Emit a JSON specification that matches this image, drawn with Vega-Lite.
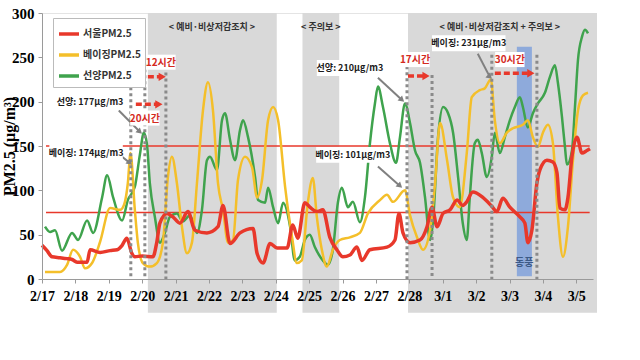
{
  "$schema": "https://vega.github.io/schema/vega-lite/v6.json",
  "width": 551,
  "height": 266,
  "autosize": {"type": "none"},
  "padding": {"left": 42, "top": 13, "right": 47, "bottom": 81},
  "background": "white",
  "config": {
    "view": {"stroke": "#e4e4e4"},
    "axis": {"labelOverlap": false, "labelFlush": false, "grid": false}
  },
  "datasets": {
    "regions": [{"start": 3.17, "end": 7.03}, {"start": 7.8, "end": 8.9}, {"start": 10.96, "end": 16.62}],
    "east": [{"start": 14.22, "end": 14.67, "mid": 14.44, "label": "동풍"}],
    "thresholds": [{"level": 150}, {"level": 75}],
    "headers": [
      {"label": "< 예비·비상저감조치 >", "day": 5.09},
      {"label": "< 주의보 >", "day": 8.35},
      {"label": "< 예비·비상저감조치 + 주의보 >", "day": 13.71}
    ],
    "markers": [
      {"day": 2.66, "top": 250}, {"day": 3.08, "top": 250}, {"day": 3.71, "top": 233},
      {"day": 10.93, "top": 240}, {"day": 11.68, "top": 230}, {"day": 13.47, "top": 253}, {"day": 14.82, "top": 253}
    ],
    "notes": [
      {"label": "선양: 177μg/m3", "day": 1.44, "pm": 200, "x1": 0.45, "x2": 2.43, "y1": 191, "y2": 209},
      {"label": "베이징: 174μg/m3", "day": 1.32, "pm": 142, "x1": 0.22, "x2": 2.42, "y1": 133, "y2": 151},
      {"label": "선양: 210μg/m3", "day": 9.22, "pm": 238, "x1": 8.23, "x2": 10.21, "y1": 229, "y2": 247},
      {"label": "베이징: 101μg/m3", "day": 9.31, "pm": 140, "x1": 8.21, "x2": 10.41, "y1": 131, "y2": 149},
      {"label": "베이징: 231μg/m3", "day": 12.78, "pm": 266, "x1": 11.68, "x2": 13.88, "y1": 257, "y2": 275}
    ],
    "arrows": [
      {"day": 2.3, "pm": 190, "day2": 2.93, "pm2": 166},
      {"day": 2.36, "pm": 139, "day2": 2.63, "pm2": 131},
      {"day": 10.06, "pm": 227, "day2": 10.78, "pm2": 202},
      {"day": 10.06, "pm": 127, "day2": 10.72, "pm2": 105},
      {"day": 13.05, "pm": 254, "day2": 13.41, "pm2": 228}
    ],
    "spans": [
      {"label": "12시간", "day": 3.17, "day2": 3.6, "pm": 228, "tday": 3.56, "tpm": 244, "x1": 3.12, "x2": 4.0, "y1": 236, "y2": 253},
      {"label": "20시간", "day": 2.81, "day2": 3.5, "pm": 197, "tday": 3.08, "tpm": 181, "x1": 2.64, "x2": 3.52, "y1": 173, "y2": 190},
      {"label": "17시간", "day": 10.96, "day2": 11.5, "pm": 229, "tday": 11.17, "tpm": 247, "x1": 10.73, "x2": 11.61, "y1": 239, "y2": 256},
      {"label": "30시간", "day": 13.56, "day2": 14.64, "pm": 232, "tday": 14.01, "tpm": 247, "x1": 13.57, "x2": 14.45, "y1": 239, "y2": 256}
    ],
    "pm": [
      {"station": "서울PM2.5", "day": 0, "pm": 38}, {"station": "서울PM2.5", "day": 0.15, "pm": 32}, {"station": "서울PM2.5", "day": 0.3, "pm": 25}, {"station": "서울PM2.5", "day": 0.54, "pm": 24}, {"station": "서울PM2.5", "day": 0.75, "pm": 23}, {"station": "서울PM2.5", "day": 0.9, "pm": 22}, {"station": "서울PM2.5", "day": 1.05, "pm": 19}, {"station": "서울PM2.5", "day": 1.35, "pm": 19}, {"station": "서울PM2.5", "day": 1.44, "pm": 33}, {"station": "서울PM2.5", "day": 1.74, "pm": 30}, {"station": "서울PM2.5", "day": 2.04, "pm": 32}, {"station": "서울PM2.5", "day": 2.25, "pm": 33}, {"station": "서울PM2.5", "day": 2.4, "pm": 38}, {"station": "서울PM2.5", "day": 2.54, "pm": 46}, {"station": "서울PM2.5", "day": 2.69, "pm": 29}, {"station": "서울PM2.5", "day": 2.78, "pm": 25}, {"station": "서울PM2.5", "day": 3.0, "pm": 26}, {"station": "서울PM2.5", "day": 3.32, "pm": 25}, {"station": "서울PM2.5", "day": 3.44, "pm": 42}, {"station": "서울PM2.5", "day": 3.53, "pm": 63}, {"station": "서울PM2.5", "day": 3.74, "pm": 74}, {"station": "서울PM2.5", "day": 3.92, "pm": 70}, {"station": "서울PM2.5", "day": 4.13, "pm": 63}, {"station": "서울PM2.5", "day": 4.37, "pm": 76}, {"station": "서울PM2.5", "day": 4.58, "pm": 55}, {"station": "서울PM2.5", "day": 4.94, "pm": 52}, {"station": "서울PM2.5", "day": 5.27, "pm": 59}, {"station": "서울PM2.5", "day": 5.42, "pm": 83}, {"station": "서울PM2.5", "day": 5.63, "pm": 40}, {"station": "서울PM2.5", "day": 5.93, "pm": 52}, {"station": "서울PM2.5", "day": 6.32, "pm": 57}, {"station": "서울PM2.5", "day": 6.44, "pm": 29}, {"station": "서울PM2.5", "day": 6.62, "pm": 18}, {"station": "서울PM2.5", "day": 6.83, "pm": 40}, {"station": "서울PM2.5", "day": 7.04, "pm": 35}, {"station": "서울PM2.5", "day": 7.34, "pm": 35}, {"station": "서울PM2.5", "day": 7.51, "pm": 61}, {"station": "서울PM2.5", "day": 7.66, "pm": 46}, {"station": "서울PM2.5", "day": 7.87, "pm": 86}, {"station": "서울PM2.5", "day": 8.02, "pm": 81}, {"station": "서울PM2.5", "day": 8.23, "pm": 76}, {"station": "서울PM2.5", "day": 8.41, "pm": 78}, {"station": "서울PM2.5", "day": 8.62, "pm": 47}, {"station": "서울PM2.5", "day": 8.83, "pm": 33}, {"station": "서울PM2.5", "day": 9.01, "pm": 25}, {"station": "서울PM2.5", "day": 9.22, "pm": 27}, {"station": "서울PM2.5", "day": 9.43, "pm": 36}, {"station": "서울PM2.5", "day": 9.58, "pm": 21}, {"station": "서울PM2.5", "day": 9.82, "pm": 33}, {"station": "서울PM2.5", "day": 10.33, "pm": 36}, {"station": "서울PM2.5", "day": 10.57, "pm": 44}, {"station": "서울PM2.5", "day": 10.69, "pm": 74}, {"station": "서울PM2.5", "day": 10.81, "pm": 52}, {"station": "서울PM2.5", "day": 11.02, "pm": 41}, {"station": "서울PM2.5", "day": 11.32, "pm": 44}, {"station": "서울PM2.5", "day": 11.53, "pm": 59}, {"station": "서울PM2.5", "day": 11.68, "pm": 81}, {"station": "서울PM2.5", "day": 11.83, "pm": 59}, {"station": "서울PM2.5", "day": 12.01, "pm": 74}, {"station": "서울PM2.5", "day": 12.22, "pm": 78}, {"station": "서울PM2.5", "day": 12.43, "pm": 89}, {"station": "서울PM2.5", "day": 12.6, "pm": 83}, {"station": "서울PM2.5", "day": 12.72, "pm": 87}, {"station": "서울PM2.5", "day": 12.9, "pm": 98}, {"station": "서울PM2.5", "day": 13.2, "pm": 92}, {"station": "서울PM2.5", "day": 13.47, "pm": 82}, {"station": "서울PM2.5", "day": 13.62, "pm": 76}, {"station": "서울PM2.5", "day": 13.8, "pm": 91}, {"station": "서울PM2.5", "day": 14.01, "pm": 81}, {"station": "서울PM2.5", "day": 14.31, "pm": 70}, {"station": "서울PM2.5", "day": 14.46, "pm": 63}, {"station": "서울PM2.5", "day": 14.55, "pm": 41}, {"station": "서울PM2.5", "day": 14.67, "pm": 55}, {"station": "서울PM2.5", "day": 14.82, "pm": 108}, {"station": "서울PM2.5", "day": 14.91, "pm": 123}, {"station": "서울PM2.5", "day": 15.12, "pm": 134}, {"station": "서울PM2.5", "day": 15.3, "pm": 132}, {"station": "서울PM2.5", "day": 15.42, "pm": 120}, {"station": "서울PM2.5", "day": 15.51, "pm": 80}, {"station": "서울PM2.5", "day": 15.66, "pm": 78}, {"station": "서울PM2.5", "day": 15.75, "pm": 92}, {"station": "서울PM2.5", "day": 15.87, "pm": 138}, {"station": "서울PM2.5", "day": 16.02, "pm": 160}, {"station": "서울PM2.5", "day": 16.17, "pm": 142}, {"station": "서울PM2.5", "day": 16.32, "pm": 145}, {"station": "서울PM2.5", "day": 16.41, "pm": 147},

      {"station": "베이징PM2.5", "day": 0.09, "pm": 8}, {"station": "베이징PM2.5", "day": 0.54, "pm": 8}, {"station": "베이징PM2.5", "day": 0.75, "pm": 16}, {"station": "베이징PM2.5", "day": 0.93, "pm": 33}, {"station": "베이징PM2.5", "day": 1.14, "pm": 25}, {"station": "베이징PM2.5", "day": 1.29, "pm": 12}, {"station": "베이징PM2.5", "day": 1.5, "pm": 18}, {"station": "베이징PM2.5", "day": 1.74, "pm": 42}, {"station": "베이징PM2.5", "day": 2.04, "pm": 80}, {"station": "베이징PM2.5", "day": 2.34, "pm": 78}, {"station": "베이징PM2.5", "day": 2.46, "pm": 84}, {"station": "베이징PM2.5", "day": 2.57, "pm": 108}, {"station": "베이징PM2.5", "day": 2.65, "pm": 142}, {"station": "베이징PM2.5", "day": 2.78, "pm": 78}, {"station": "베이징PM2.5", "day": 2.87, "pm": 41}, {"station": "베이징PM2.5", "day": 3.02, "pm": 18}, {"station": "베이징PM2.5", "day": 3.23, "pm": 14}, {"station": "베이징PM2.5", "day": 3.44, "pm": 18}, {"station": "베이징PM2.5", "day": 3.62, "pm": 41}, {"station": "베이징PM2.5", "day": 3.77, "pm": 115}, {"station": "베이징PM2.5", "day": 3.89, "pm": 138}, {"station": "베이징PM2.5", "day": 4.04, "pm": 108}, {"station": "베이징PM2.5", "day": 4.19, "pm": 59}, {"station": "베이징PM2.5", "day": 4.34, "pm": 29}, {"station": "베이징PM2.5", "day": 4.49, "pm": 41}, {"station": "베이징PM2.5", "day": 4.64, "pm": 108}, {"station": "베이징PM2.5", "day": 4.82, "pm": 190}, {"station": "베이징PM2.5", "day": 4.97, "pm": 222}, {"station": "베이징PM2.5", "day": 5.12, "pm": 190}, {"station": "베이징PM2.5", "day": 5.27, "pm": 108}, {"station": "베이징PM2.5", "day": 5.42, "pm": 78}, {"station": "베이징PM2.5", "day": 5.57, "pm": 41}, {"station": "베이징PM2.5", "day": 5.72, "pm": 44}, {"station": "베이징PM2.5", "day": 5.87, "pm": 112}, {"station": "베이징PM2.5", "day": 6.08, "pm": 138}, {"station": "베이징PM2.5", "day": 6.29, "pm": 126}, {"station": "베이징PM2.5", "day": 6.44, "pm": 92}, {"station": "베이징PM2.5", "day": 6.59, "pm": 112}, {"station": "베이징PM2.5", "day": 6.77, "pm": 179}, {"station": "베이징PM2.5", "day": 6.92, "pm": 194}, {"station": "베이징PM2.5", "day": 7.07, "pm": 179}, {"station": "베이징PM2.5", "day": 7.28, "pm": 104}, {"station": "베이징PM2.5", "day": 7.49, "pm": 47}, {"station": "베이징PM2.5", "day": 7.63, "pm": 18}, {"station": "베이징PM2.5", "day": 7.78, "pm": 21}, {"station": "베이징PM2.5", "day": 7.96, "pm": 86}, {"station": "베이징PM2.5", "day": 8.11, "pm": 114}, {"station": "베이징PM2.5", "day": 8.23, "pm": 70}, {"station": "베이징PM2.5", "day": 8.38, "pm": 33}, {"station": "베이징PM2.5", "day": 8.53, "pm": 14}, {"station": "베이징PM2.5", "day": 8.71, "pm": 33}, {"station": "베이징PM2.5", "day": 8.92, "pm": 44}, {"station": "베이징PM2.5", "day": 9.22, "pm": 47}, {"station": "베이징PM2.5", "day": 9.52, "pm": 52}, {"station": "베이징PM2.5", "day": 9.76, "pm": 74}, {"station": "베이징PM2.5", "day": 10.12, "pm": 89}, {"station": "베이징PM2.5", "day": 10.33, "pm": 95}, {"station": "베이징PM2.5", "day": 10.51, "pm": 87}, {"station": "베이징PM2.5", "day": 10.87, "pm": 100}, {"station": "베이징PM2.5", "day": 11.02, "pm": 72}, {"station": "베이징PM2.5", "day": 11.23, "pm": 47}, {"station": "베이징PM2.5", "day": 11.41, "pm": 33}, {"station": "베이징PM2.5", "day": 11.62, "pm": 55}, {"station": "베이징PM2.5", "day": 11.77, "pm": 108}, {"station": "베이징PM2.5", "day": 11.92, "pm": 176}, {"station": "베이징PM2.5", "day": 12.13, "pm": 134}, {"station": "베이징PM2.5", "day": 12.31, "pm": 92}, {"station": "베이징PM2.5", "day": 12.51, "pm": 81}, {"station": "베이징PM2.5", "day": 12.72, "pm": 142}, {"station": "베이징PM2.5", "day": 12.87, "pm": 205}, {"station": "베이징PM2.5", "day": 13.11, "pm": 213}, {"station": "베이징PM2.5", "day": 13.26, "pm": 215}, {"station": "베이징PM2.5", "day": 13.44, "pm": 225}, {"station": "베이징PM2.5", "day": 13.56, "pm": 179}, {"station": "베이징PM2.5", "day": 13.71, "pm": 153}, {"station": "베이징PM2.5", "day": 13.92, "pm": 165}, {"station": "베이징PM2.5", "day": 14.1, "pm": 170}, {"station": "베이징PM2.5", "day": 14.4, "pm": 174}, {"station": "베이징PM2.5", "day": 14.55, "pm": 179}, {"station": "베이징PM2.5", "day": 14.7, "pm": 160}, {"station": "베이징PM2.5", "day": 14.85, "pm": 149}, {"station": "베이징PM2.5", "day": 15.0, "pm": 165}, {"station": "베이징PM2.5", "day": 15.15, "pm": 174}, {"station": "베이징PM2.5", "day": 15.3, "pm": 153}, {"station": "베이징PM2.5", "day": 15.45, "pm": 70}, {"station": "베이징PM2.5", "day": 15.6, "pm": 25}, {"station": "베이징PM2.5", "day": 15.75, "pm": 59}, {"station": "베이징PM2.5", "day": 15.9, "pm": 134}, {"station": "베이징PM2.5", "day": 16.05, "pm": 190}, {"station": "베이징PM2.5", "day": 16.2, "pm": 207}, {"station": "베이징PM2.5", "day": 16.35, "pm": 210},

      {"station": "선양PM2.5", "day": 0.09, "pm": 59}, {"station": "선양PM2.5", "day": 0.24, "pm": 53}, {"station": "선양PM2.5", "day": 0.39, "pm": 55}, {"station": "선양PM2.5", "day": 0.6, "pm": 32}, {"station": "선양PM2.5", "day": 0.9, "pm": 52}, {"station": "선양PM2.5", "day": 1.08, "pm": 44}, {"station": "선양PM2.5", "day": 1.35, "pm": 66}, {"station": "선양PM2.5", "day": 1.53, "pm": 52}, {"station": "선양PM2.5", "day": 1.8, "pm": 92}, {"station": "선양PM2.5", "day": 1.95, "pm": 117}, {"station": "선양PM2.5", "day": 2.13, "pm": 92}, {"station": "선양PM2.5", "day": 2.4, "pm": 66}, {"station": "선양PM2.5", "day": 2.57, "pm": 89}, {"station": "선양PM2.5", "day": 2.78, "pm": 104}, {"station": "선양PM2.5", "day": 2.93, "pm": 140}, {"station": "선양PM2.5", "day": 3.05, "pm": 165}, {"station": "선양PM2.5", "day": 3.14, "pm": 153}, {"station": "선양PM2.5", "day": 3.23, "pm": 108}, {"station": "선양PM2.5", "day": 3.38, "pm": 70}, {"station": "선양PM2.5", "day": 3.53, "pm": 41}, {"station": "선양PM2.5", "day": 3.68, "pm": 52}, {"station": "선양PM2.5", "day": 3.83, "pm": 70}, {"station": "선양PM2.5", "day": 4.04, "pm": 74}, {"station": "선양PM2.5", "day": 4.22, "pm": 65}, {"station": "선양PM2.5", "day": 4.43, "pm": 72}, {"station": "선양PM2.5", "day": 4.64, "pm": 52}, {"station": "선양PM2.5", "day": 4.79, "pm": 78}, {"station": "선양PM2.5", "day": 4.94, "pm": 134}, {"station": "선양PM2.5", "day": 5.03, "pm": 138}, {"station": "선양PM2.5", "day": 5.24, "pm": 123}, {"station": "선양PM2.5", "day": 5.39, "pm": 179}, {"station": "선양PM2.5", "day": 5.48, "pm": 187}, {"station": "선양PM2.5", "day": 5.63, "pm": 157}, {"station": "선양PM2.5", "day": 5.78, "pm": 134}, {"station": "선양PM2.5", "day": 5.93, "pm": 168}, {"station": "선양PM2.5", "day": 6.02, "pm": 179}, {"station": "선양PM2.5", "day": 6.17, "pm": 160}, {"station": "선양PM2.5", "day": 6.38, "pm": 115}, {"station": "선양PM2.5", "day": 6.47, "pm": 89}, {"station": "선양PM2.5", "day": 6.68, "pm": 86}, {"station": "선양PM2.5", "day": 6.77, "pm": 103}, {"station": "선양PM2.5", "day": 6.92, "pm": 81}, {"station": "선양PM2.5", "day": 7.07, "pm": 63}, {"station": "선양PM2.5", "day": 7.22, "pm": 86}, {"station": "선양PM2.5", "day": 7.43, "pm": 59}, {"station": "선양PM2.5", "day": 7.57, "pm": 21}, {"station": "선양PM2.5", "day": 7.72, "pm": 25}, {"station": "선양PM2.5", "day": 7.87, "pm": 44}, {"station": "선양PM2.5", "day": 8.02, "pm": 50}, {"station": "선양PM2.5", "day": 8.17, "pm": 36}, {"station": "선양PM2.5", "day": 8.41, "pm": 21}, {"station": "선양PM2.5", "day": 8.56, "pm": 16}, {"station": "선양PM2.5", "day": 8.71, "pm": 33}, {"station": "선양PM2.5", "day": 8.86, "pm": 86}, {"station": "선양PM2.5", "day": 8.98, "pm": 103}, {"station": "선양PM2.5", "day": 9.16, "pm": 81}, {"station": "선양PM2.5", "day": 9.31, "pm": 87}, {"station": "선양PM2.5", "day": 9.52, "pm": 64}, {"station": "선양PM2.5", "day": 9.67, "pm": 92}, {"station": "선양PM2.5", "day": 9.82, "pm": 153}, {"station": "선양PM2.5", "day": 9.97, "pm": 198}, {"station": "선양PM2.5", "day": 10.06, "pm": 217}, {"station": "선양PM2.5", "day": 10.21, "pm": 194}, {"station": "선양PM2.5", "day": 10.42, "pm": 153}, {"station": "선양PM2.5", "day": 10.6, "pm": 131}, {"station": "선양PM2.5", "day": 10.72, "pm": 160}, {"station": "선양PM2.5", "day": 10.87, "pm": 198}, {"station": "선양PM2.5", "day": 11.02, "pm": 176}, {"station": "선양PM2.5", "day": 11.17, "pm": 145}, {"station": "선양PM2.5", "day": 11.32, "pm": 131}, {"station": "선양PM2.5", "day": 11.47, "pm": 92}, {"station": "선양PM2.5", "day": 11.62, "pm": 44}, {"station": "선양PM2.5", "day": 11.71, "pm": 66}, {"station": "선양PM2.5", "day": 11.86, "pm": 160}, {"station": "선양PM2.5", "day": 12.01, "pm": 194}, {"station": "선양PM2.5", "day": 12.16, "pm": 187}, {"station": "선양PM2.5", "day": 12.31, "pm": 165}, {"station": "선양PM2.5", "day": 12.46, "pm": 115}, {"station": "선양PM2.5", "day": 12.6, "pm": 63}, {"station": "선양PM2.5", "day": 12.72, "pm": 44}, {"station": "선양PM2.5", "day": 12.81, "pm": 92}, {"station": "선양PM2.5", "day": 12.96, "pm": 153}, {"station": "선양PM2.5", "day": 13.05, "pm": 157}, {"station": "선양PM2.5", "day": 13.17, "pm": 142}, {"station": "선양PM2.5", "day": 13.32, "pm": 115}, {"station": "선양PM2.5", "day": 13.47, "pm": 138}, {"station": "선양PM2.5", "day": 13.56, "pm": 165}, {"station": "선양PM2.5", "day": 13.71, "pm": 142}, {"station": "선양PM2.5", "day": 13.86, "pm": 160}, {"station": "선양PM2.5", "day": 14.01, "pm": 179}, {"station": "선양PM2.5", "day": 14.16, "pm": 194}, {"station": "선양PM2.5", "day": 14.31, "pm": 205}, {"station": "선양PM2.5", "day": 14.4, "pm": 194}, {"station": "선양PM2.5", "day": 14.55, "pm": 171}, {"station": "선양PM2.5", "day": 14.7, "pm": 187}, {"station": "선양PM2.5", "day": 14.85, "pm": 198}, {"station": "선양PM2.5", "day": 15.06, "pm": 210}, {"station": "선양PM2.5", "day": 15.21, "pm": 228}, {"station": "선양PM2.5", "day": 15.36, "pm": 241}, {"station": "선양PM2.5", "day": 15.45, "pm": 221}, {"station": "선양PM2.5", "day": 15.57, "pm": 183}, {"station": "선양PM2.5", "day": 15.66, "pm": 149}, {"station": "선양PM2.5", "day": 15.72, "pm": 129}, {"station": "선양PM2.5", "day": 15.87, "pm": 145}, {"station": "선양PM2.5", "day": 15.96, "pm": 194}, {"station": "선양PM2.5", "day": 16.05, "pm": 247}, {"station": "선양PM2.5", "day": 16.17, "pm": 273}, {"station": "선양PM2.5", "day": 16.26, "pm": 281}, {"station": "선양PM2.5", "day": 16.35, "pm": 277}
    ]
  },
  "layer": [
    {
      "data": {"name": "regions"},
      "mark": {"type": "rect", "color": "#d9d9d9"},
      "encoding": {
        "x": {"field": "start", "type": "quantitative", "scale": {"domain": [0, 16.5], "nice": false, "zero": false},
          "axis": {"values": [0, 1, 2, 3, 4, 5, 6, 7, 8, 9, 10, 11, 12, 13, 14, 15, 16], "tickCount": 40,
            "labelExpr": "timeFormat(datetime(2019, 1, 17 + datum.value), '%-m/%-d')",
            "title": null, "grid": false, "tickSize": 4, "labelPadding": 6, "labelFlush": false, "labelOverlap": false,
            "labelFont": "Liberation Serif", "labelFontWeight": "bold", "labelFontSize": 14, "labelColor": "#000",
            "domainColor": "#9a9a9a", "tickColor": "#9a9a9a", "zindex": 1}},
        "x2": {"field": "end"},
        "y": {"datum": 300, "type": "quantitative", "scale": {"domain": [0, 300], "nice": false, "zero": false},
          "axis": {"values": [0, 50, 100, 150, 200, 250, 300], "tickCount": 20, "title": "PM2.5 (μg/m³)",
            "titleFont": "Liberation Serif", "titleFontSize": 16, "titleFontWeight": "bold", "titleColor": "#000", "titleX": -28, "titleBaseline": "alphabetic",
            "grid": false, "tickSize": 4, "labelPadding": 4,
            "labelFont": "Liberation Serif", "labelFontWeight": "bold", "labelFontSize": 15, "labelColor": "#000",
            "domainColor": "#9a9a9a", "tickColor": "#9a9a9a", "zindex": 1}},
        "y2": {"datum": -38}
      }
    },
    {
      "data": {"name": "east"},
      "mark": {"type": "rect", "color": "#8eaadb"},
      "encoding": {
        "x": {"field": "start", "type": "quantitative"},
        "x2": {"field": "end"},
        "y": {"datum": 262, "type": "quantitative"},
        "y2": {"datum": 3}
      }
    },
    {
      "data": {"name": "thresholds"},
      "mark": {"type": "rule", "color": "#e8382b", "strokeWidth": 1.5},
      "encoding": {
        "x": {"datum": 0.12, "type": "quantitative"},
        "x2": {"datum": 16.4},
        "y": {"field": "level", "type": "quantitative"}
      }
    },
    {
      "data": {"name": "headers"},
      "mark": {"type": "text", "font": "Noto Sans CJK KR", "fontSize": 9, "fontWeight": "bold", "color": "#333333"},
      "encoding": {
        "x": {"field": "day", "type": "quantitative"},
        "y": {"datum": 284, "type": "quantitative"},
        "text": {"field": "label", "type": "nominal"}
      }
    },
    {
      "data": {"name": "pm"},
      "transform": [{"filter": "datum.station === '선양PM2.5'"}],
      "mark": {"type": "line", "interpolate": "monotone", "strokeWidth": 2.5},
      "encoding": {
        "x": {"field": "day", "type": "quantitative"},
        "y": {"field": "pm", "type": "quantitative"},
        "color": {"field": "station", "type": "nominal",
          "scale": {"domain": ["서울PM2.5", "베이징PM2.5", "선양PM2.5"], "range": ["#e8382b", "#f4bf2a", "#3fa34d"]},
          "legend": {"title": null, "orient": "none", "legendX": 11, "legendY": 5, "symbolType": "stroke", "symbolStrokeWidth": 3.5,
            "symbolSize": 400, "labelFont": "Noto Sans CJK KR", "labelFontSize": 10, "labelFontWeight": "bold", "labelColor": "#333333",
            "strokeColor": "#bbbbbb", "fillColor": "white", "padding": 4, "rowPadding": 2, "labelOffset": 2}}
      }
    },
    {
      "data": {"name": "pm"},
      "transform": [{"filter": "datum.station === '베이징PM2.5'"}],
      "mark": {"type": "line", "interpolate": "monotone", "strokeWidth": 2.5},
      "encoding": {
        "x": {"field": "day", "type": "quantitative"},
        "y": {"field": "pm", "type": "quantitative"},
        "color": {"field": "station", "type": "nominal"}
      }
    },
    {
      "data": {"name": "pm"},
      "transform": [{"filter": "datum.station === '서울PM2.5'"}],
      "mark": {"type": "line", "interpolate": "monotone", "strokeWidth": 3.5},
      "encoding": {
        "x": {"field": "day", "type": "quantitative"},
        "y": {"field": "pm", "type": "quantitative"},
        "color": {"field": "station", "type": "nominal"}
      }
    },
    {
      "data": {"name": "east"},
      "mark": {"type": "text", "font": "Noto Sans CJK KR", "fontSize": 10, "fontWeight": "bold", "color": "#3d5a86"},
      "encoding": {
        "x": {"field": "mid", "type": "quantitative"},
        "y": {"datum": 18, "type": "quantitative"},
        "text": {"field": "label", "type": "nominal"}
      }
    },
    {
      "data": {"name": "markers"},
      "mark": {"type": "rule", "color": "#8a8a8a", "strokeWidth": 3, "strokeDash": [3, 3]},
      "encoding": {
        "x": {"field": "day", "type": "quantitative"},
        "y": {"field": "top", "type": "quantitative"},
        "y2": {"datum": -1}
      }
    },
    {
      "data": {"name": "arrows"},
      "mark": {"type": "rule", "color": "#808080", "strokeWidth": 2},
      "encoding": {
        "x": {"field": "day", "type": "quantitative"},
        "y": {"field": "pm", "type": "quantitative"},
        "x2": {"field": "day2"},
        "y2": {"field": "pm2"}
      }
    },
    {
      "data": {"name": "arrows"},
      "mark": {"type": "point", "shape": "triangle-right", "filled": true, "color": "#808080", "size": 45, "angle": 42, "opacity": 1},
      "encoding": {
        "x": {"field": "day2", "type": "quantitative"},
        "y": {"field": "pm2", "type": "quantitative"}
      }
    },
    {
      "data": {"name": "spans"},
      "mark": {"type": "rule", "color": "#e8382b", "strokeWidth": 3.5, "strokeDash": [6, 3]},
      "encoding": {
        "x": {"field": "day", "type": "quantitative"},
        "x2": {"field": "day2"},
        "y": {"field": "pm", "type": "quantitative"}
      }
    },
    {
      "data": {"name": "spans"},
      "mark": {"type": "point", "shape": "triangle-right", "filled": true, "color": "#e8382b", "size": 70, "opacity": 1},
      "encoding": {
        "x": {"field": "day2", "type": "quantitative"},
        "y": {"field": "pm", "type": "quantitative"}
      }
    },
    {
      "data": {"name": "notes"},
      "mark": {"type": "rect", "color": "white"},
      "encoding": {
        "x": {"field": "x1", "type": "quantitative"},
        "x2": {"field": "x2"},
        "y": {"field": "y1", "type": "quantitative"},
        "y2": {"field": "y2"}
      }
    },
    {
      "data": {"name": "spans"},
      "mark": {"type": "rect", "color": "white"},
      "encoding": {
        "x": {"field": "x1", "type": "quantitative"},
        "x2": {"field": "x2"},
        "y": {"field": "y1", "type": "quantitative"},
        "y2": {"field": "y2"}
      }
    },
    {
      "data": {"name": "notes"},
      "mark": {"type": "text", "font": "Noto Sans CJK KR", "fontSize": 9, "fontWeight": "bold", "color": "#1a1a1a"},
      "encoding": {
        "x": {"field": "day", "type": "quantitative"},
        "y": {"field": "pm", "type": "quantitative"},
        "text": {"field": "label", "type": "nominal"}
      }
    },
    {
      "data": {"name": "spans"},
      "mark": {"type": "text", "font": "Noto Sans CJK KR", "fontSize": 10, "fontWeight": "bold", "color": "#d42a1e"},
      "encoding": {
        "x": {"field": "tday", "type": "quantitative"},
        "y": {"field": "tpm", "type": "quantitative"},
        "text": {"field": "label", "type": "nominal"}
      }
    }
  ]
}
